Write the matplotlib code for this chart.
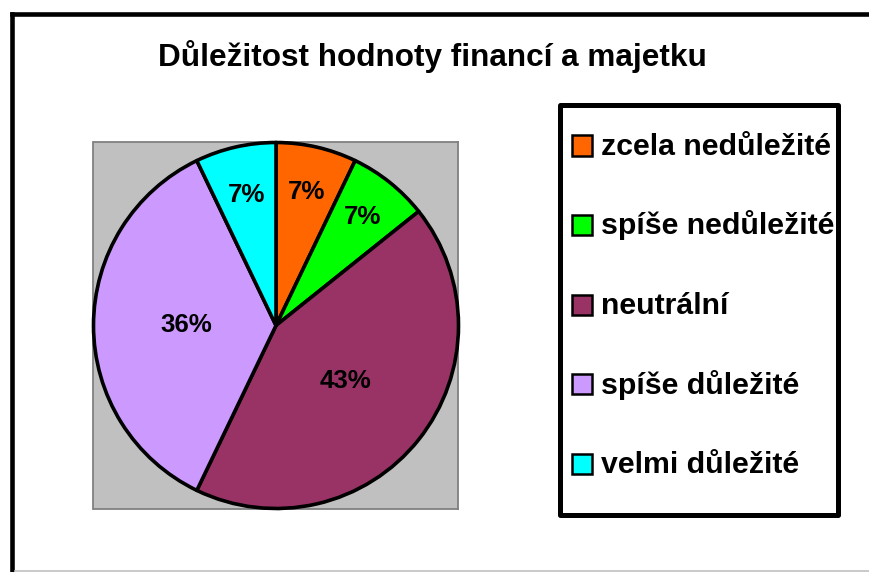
import matplotlib
matplotlib.use("Agg")
import matplotlib.pyplot as plt
from matplotlib.patches import Rectangle
from matplotlib.lines import Line2D
import numpy as np

# ---- data ----
title = "Důležitost hodnoty financí a majetku"
categories = ["zcela nedůležité", "spíše nedůležité", "neutrální", "spíše důležité", "velmi důležité"]
counts = [1, 1, 6, 5, 1]
colors = ["#FF6600", "#00FF00", "#993366", "#CC99FF", "#00FFFF"]

# label radial placement (fraction of radius), Excel-like
label_radius = [0.75, 0.76, 0.49, 0.49, 0.73]

plt.rcParams['font.family'] = ['Liberation Sans', 'DejaVu Sans']

W, H = 870, 572
fig = plt.figure(figsize=(W / 100, H / 100), dpi=100)
fig.patch.set_facecolor("white")

def fx(x):
    return x / W

def fy(y):
    return 1 - y / H

# outer chart border (top & left black, bottom light gray)
fig.add_artist(Line2D([fx(12.5), fx(12.5)], [fy(14), fy(572)], color="black", lw=3.3,
                      transform=fig.transFigure, solid_capstyle="projecting"))
fig.add_artist(Line2D([fx(12.5), fx(872)], [fy(14), fy(14)], color="black", lw=3.3,
                      transform=fig.transFigure, solid_capstyle="projecting"))
fig.add_artist(Line2D([fx(15), fx(870)], [fy(570.5), fy(570.5)], color="#C0C0C0", lw=1.2,
                      transform=fig.transFigure))

# title
fig.text(fx(432.5), fy(66), title, ha="center", va="baseline", fontsize=22.7,
         fontweight="bold", color="black")

# plot area
x0, x1, y0, y1 = 93.5, 458.5, 142.5, 508.5
ax = fig.add_axes([fx(x0), fy(y1), (x1 - x0) / W, (y1 - y0) / H])

total = sum(counts)
wedges, _, autotexts = ax.pie(
    counts, colors=colors, startangle=90, counterclock=False, radius=1.0,
    autopct=lambda p: f"{p:.0f}%", pctdistance=0.6, frame=True,
    wedgeprops=dict(edgecolor="black", linewidth=2.6, joinstyle="round"),
    textprops=dict(fontsize=18.6, fontweight="bold", color="black"))
for w in wedges:
    w.set_clip_on(False)
    w.set_zorder(3)
for w, t, r in zip(wedges, autotexts, label_radius):
    ang = np.deg2rad((w.theta1 + w.theta2) / 2)
    t.set_position((r * np.cos(ang), r * np.sin(ang)))
    t.set_ha("center")
    t.set_va("center")
    t.set_zorder(4)
ax.set_facecolor("#C0C0C0")
for s in ax.spines.values():
    s.set_visible(True)
    s.set_edgecolor("#808080")
    s.set_linewidth(1.3)
    s.set_zorder(1)
ax.set_xticks([])
ax.set_yticks([])
ax.set_xlim(-1.0, 1.0)
ax.set_ylim(-1.0, 1.0)
ax.set_aspect("auto")

# legend box
lx0, lx1, ly0, ly1 = 560, 838, 104.5, 514.5
fig.add_artist(Rectangle((fx(lx0), fy(ly1)), (lx1 - lx0) / W, (ly1 - ly0) / H,
                         transform=fig.transFigure, facecolor="white", edgecolor="black",
                         linewidth=3.6, joinstyle="round"))
row0, step = 145.5, 79.5
msize = 20
for i, (lab, col) in enumerate(zip(categories, colors)):
    cy = row0 + i * step
    fig.add_artist(Rectangle((fx(571.5), fy(cy + msize / 2)), msize / W, msize / H,
                             transform=fig.transFigure, facecolor=col, edgecolor="black",
                             linewidth=1.8))
    fig.text(fx(601), fy(cy + 9.5), lab, ha="left", va="baseline", fontsize=21.8,
             fontweight="bold", color="black")

fig.savefig("out.png", dpi=100, facecolor="white")
